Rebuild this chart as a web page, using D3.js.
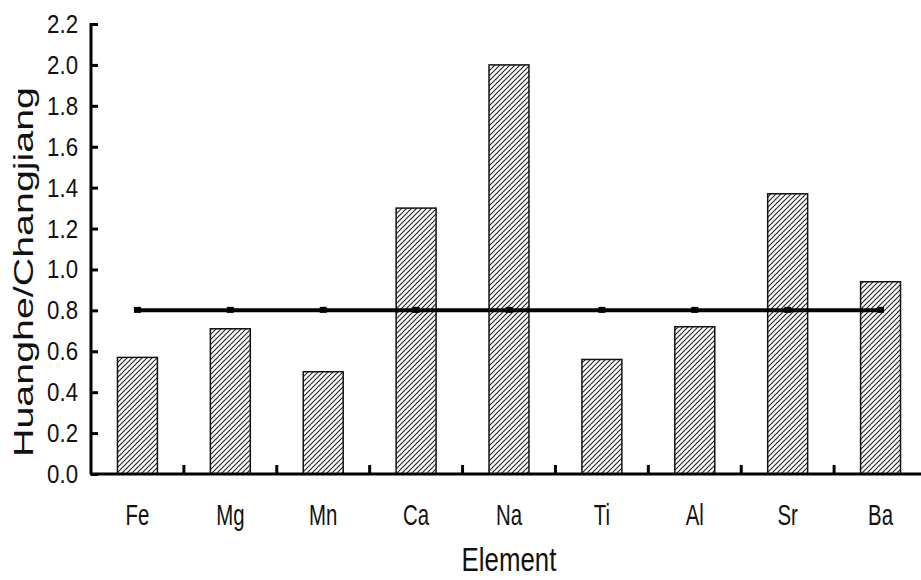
<!DOCTYPE html>
<html>
<head>
<meta charset="utf-8">
<script src="https://cdn.jsdelivr.net/npm/d3@7"></script>
<style>
  body { margin: 0; background: #fff; }
  svg { display: block; }
</style>
</head>
<body>
<div id="chart"></div>
<script>
const width = 921;
const height = 580;

// data
const elements = ["Fe", "Mg", "Mn", "Ca", "Na", "Ti", "Al", "Sr", "Ba"];
const ratios = [0.57, 0.71, 0.50, 1.30, 2.00, 0.56, 0.72, 1.37, 0.94];
const refLevel = [0.8, 0.8, 0.8, 0.8, 0.8, 0.8, 0.8, 0.8, 0.8];
const yTicks = [0.0, 0.2, 0.4, 0.6, 0.8, 1.0, 1.2, 1.4, 1.6, 1.8, 2.0, 2.2];

const font = "'Liberation Sans', Arial, sans-serif";

const svg = d3.select('#chart')
  .append('svg')
  .attr('width', width)
  .attr('height', height);

// hatch fill
svg.append('defs')
  .append('pattern')
  .attr('id', 'hatch')
  .attr('patternUnits', 'userSpaceOnUse')
  .attr('width', 5)
  .attr('height', 5)
  .append('path')
  .attr('d', 'M-1,1 l2,-2 M0,5 l5,-5 M4,6 l2,-2')
  .attr('stroke', '#222')
  .attr('stroke-width', 1.1);

const xScale = d3.scaleBand()
  .domain(elements)
  .range([91, 927])
  .paddingInner(0.57)
  .paddingOuter(0.285);

const xStep = d3.scaleBand()
  .domain(elements)
  .range([91, 927]);

const yScale = d3.scaleLinear()
  .domain([0, 2.2])
  .range([474, 24]);

// helper for the squeezed look of the labels
const label = (x, y, txt, size, sx, anchor) => {
  svg.append('text')
    .attr('transform', `translate(${x},${y}) scale(${sx},1)`)
    .attr('text-anchor', anchor)
    .style('font-family', font)
    .style('font-size', size + 'px')
    .attr('fill', '#111')
    .text(txt);
};

// bars
svg.selectAll('rect.bar')
  .data(ratios)
  .enter()
  .append('rect')
  .attr('class', 'bar')
  .attr('x', (d, i) => xScale(elements[i]))
  .attr('y', (d) => yScale(d))
  .attr('width', xScale.bandwidth())
  .attr('height', (d) => yScale(0) - yScale(d))
  .attr('fill', 'url(#hatch)')
  .attr('stroke', '#111')
  .attr('stroke-width', 1.5);

// reference line with markers
const cx = (d, i) => xScale(elements[i]) + xScale.bandwidth() / 2;
svg.append('path')
  .datum(refLevel)
  .attr('d', d3.line().x(cx).y((d) => yScale(d)))
  .attr('fill', 'none')
  .attr('stroke', '#000')
  .attr('stroke-width', 4);

svg.selectAll('rect.mark')
  .data(refLevel)
  .enter()
  .append('rect')
  .attr('class', 'mark')
  .attr('x', (d, i) => cx(d, i) - 3.5)
  .attr('y', (d) => yScale(d) - 3.5)
  .attr('width', 7)
  .attr('height', 6)
  .attr('fill', '#000');

// y axis
const yAxis = svg.append('g')
  .attr('transform', 'translate(91,0)')
  .call(d3.axisRight(yScale).tickValues(yTicks).tickSize(7).tickFormat(''));
yAxis.select('.domain').attr('stroke', '#000').attr('stroke-width', 3)
  .attr('d', `M0,${yScale(2.2) - 1}V${yScale(0)}`);
yAxis.selectAll('.tick line').attr('stroke', '#000').attr('stroke-width', 3);

yTicks.forEach((t) => {
  label(78, yScale(t) + 9, d3.format('.1f')(t), 25, 0.89, 'end');
});

// x axis
svg.append('line')
  .attr('x1', 90).attr('x2', width)
  .attr('y1', yScale(0)).attr('y2', yScale(0))
  .attr('stroke', '#000')
  .attr('stroke-width', 3);

svg.selectAll('line.xtick')
  .data(elements.slice(1))
  .enter()
  .append('line')
  .attr('class', 'xtick')
  .attr('x1', (d) => xStep(d))
  .attr('x2', (d) => xStep(d))
  .attr('y1', yScale(0))
  .attr('y2', yScale(0) - 9)
  .attr('stroke', '#000')
  .attr('stroke-width', 3);

elements.forEach((e, i) => {
  label(cx(0, i), 525, e, 30, 0.68, 'middle');
});

// axis titles
label(509, 571, 'Element', 34, 0.76, 'middle');

svg.append('text')
  .attr('transform', 'translate(33,272) rotate(-90)')
  .attr('text-anchor', 'middle')
  .attr('textLength', 370)
  .attr('lengthAdjust', 'spacingAndGlyphs')
  .style('font-family', font)
  .style('font-size', '27px')
  .attr('fill', '#111')
  .text('Huanghe/Changjiang');
</script>
</body>
</html>
